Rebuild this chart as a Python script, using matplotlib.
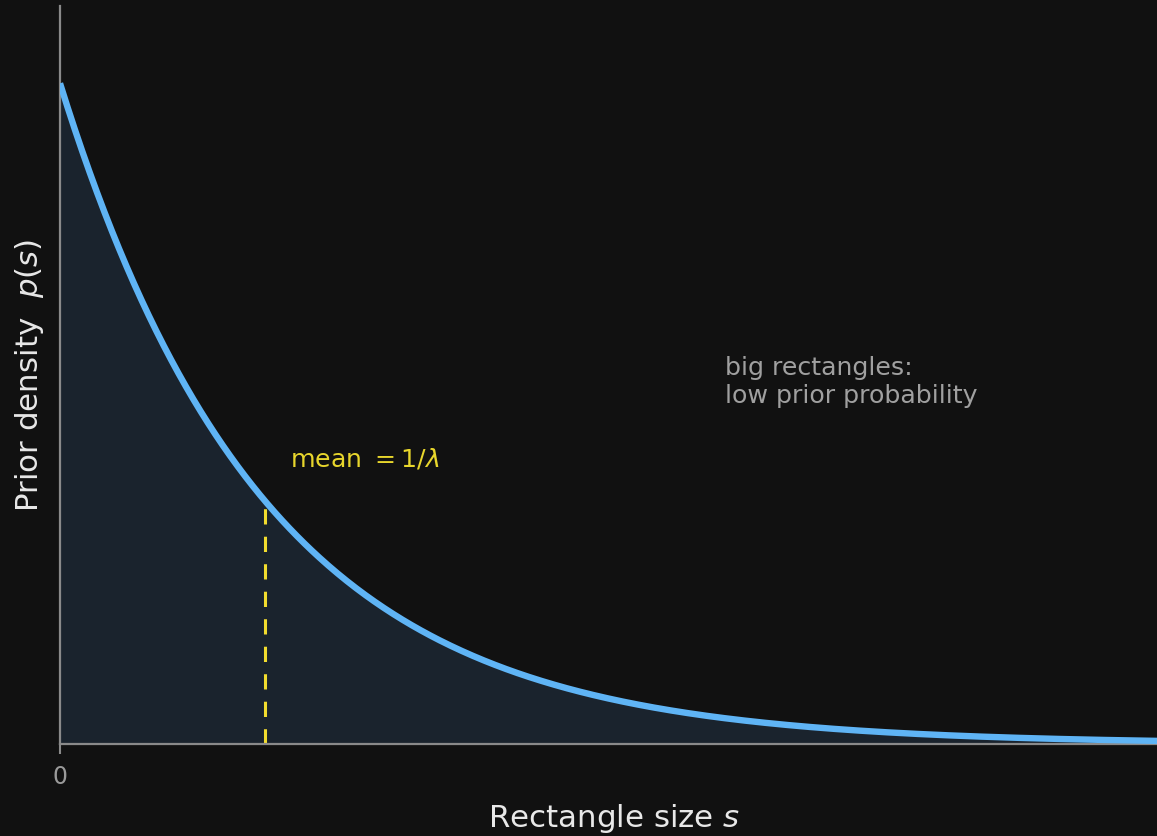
import numpy as np
import matplotlib
matplotlib.use("Agg")
import matplotlib.pyplot as plt

# Exponential prior on rectangle size
lam = 1.0
s_max = 5.41
s = np.linspace(0, s_max, 600)
density = lam * np.exp(-lam * s)
mean_s = 1.0 / lam
mean_density = lam * np.exp(-lam * mean_s)

x_ticks = [0]
x_tick_labels = ["0"]

BG = "#111111"
CURVE = "#5fb4f5"
FILL = "#1a232d"
YELLOW = "#f2dc2e"
SPINE = "#8a8a8a"

fig = plt.figure(figsize=(11.57, 8.36), dpi=100, facecolor=BG)
ax = fig.add_axes([60 / 1157, 92 / 836, 1109 / 1157, 738 / 836])
ax.set_facecolor(BG)

ax.fill_between(s, 0, density, color=FILL, zorder=1)
ax.plot(s, density, color=CURVE, lw=4.6, solid_capstyle="butt", zorder=3)
ax.plot([mean_s, mean_s], [0, mean_density], color=YELLOW, lw=2.2,
        dashes=(5, 4), zorder=2)

ax.text(mean_s + 0.12, mean_density + 0.063, r"mean $= 1/\lambda$",
        color="#e8d62c", fontsize=18.2, ha="left", va="center")
ax.text(3.245, 0.548, "big rectangles:\nlow prior probability",
        color="#a0a0a0", fontsize=18.2, ha="left", va="center",
        linespacing=1.22)

ax.set_xlim(0, s_max)
ax.set_ylim(0, 1.117 * lam)
ax.set_xticks(x_ticks)
ax.set_xticklabels(x_tick_labels)
ax.set_yticks([])
ax.tick_params(axis="x", colors=SPINE, labelcolor="#9a9a9a", length=7,
               width=1.5, labelsize=17, pad=8)

for side in ("top", "right"):
    ax.spines[side].set_visible(False)
for side in ("left", "bottom"):
    ax.spines[side].set_color(SPINE)
    ax.spines[side].set_linewidth(1.6)

ax.set_xlabel("Rectangle size $s$", color="#e8e8e8", fontsize=22.2, labelpad=9.5)
ax.set_ylabel("Prior density  $p(s)$", color="#e8e8e8", fontsize=22.2, labelpad=10)

fig.savefig("out.png", dpi=100, facecolor=BG)
